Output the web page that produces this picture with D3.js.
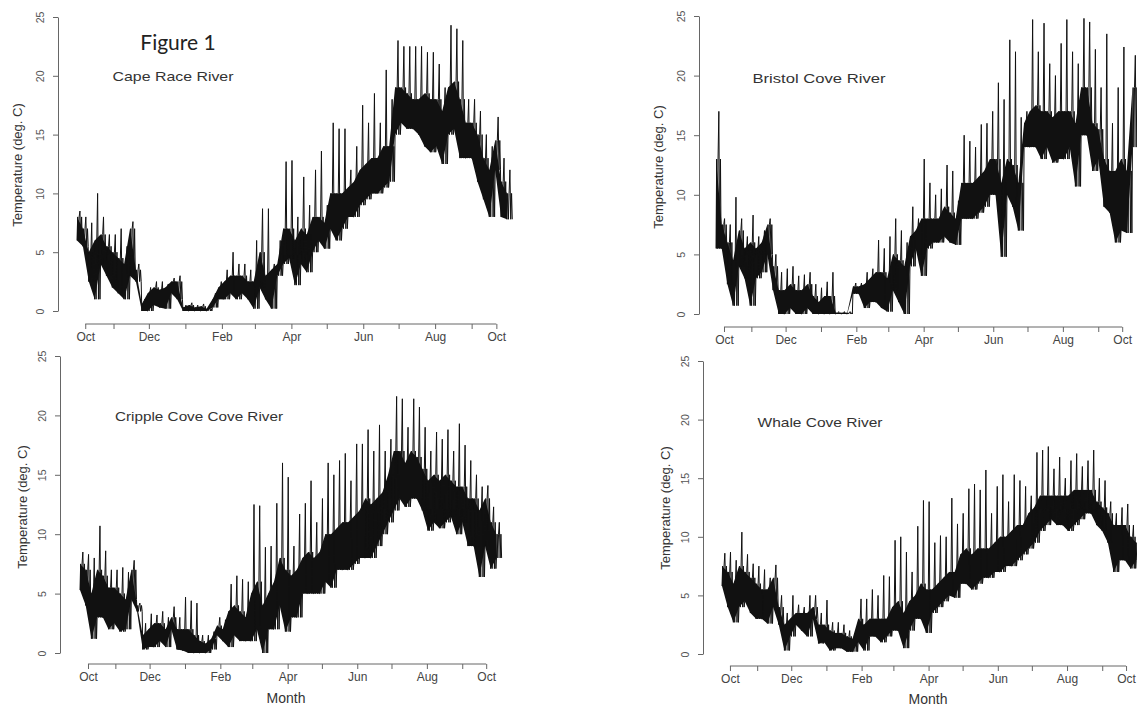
<!DOCTYPE html>
<html>
<head>
<meta charset="utf-8">
<script src="https://cdn.jsdelivr.net/npm/d3@7"></script>
<style>
body { margin: 0; background: #fff; }
svg { display: block; }
text { font-family: "Liberation Sans", Arial, sans-serif; }
</style>
</head>
<body>
<svg width="1137" height="708"></svg>
<script>
// record starts 1 Oct 2012, one reading block every 5 days
var startDate = "2012-10-01";
var stepDays = 5;
var tickDates = ["2012-10-08", "2012-11-01", "2012-12-01", "2013-01-01", "2013-02-01", "2013-03-01",
	"2013-04-01", "2013-05-01", "2013-06-01", "2013-07-01", "2013-08-01", "2013-09-01", "2013-09-22"];
var tickLabels = ["Oct", "", "Dec", "", "Feb", "", "Apr", "", "Jun", "", "Aug", "", "Oct"];
var yTicks = [0, 5, 10, 15, 20, 25];
var siteNames = ["Cape Race River", "Bristol Cove River", "Cripple Cove Cove River", "Whale Cove River"];

// lo = bottom of the trace, hi = top of the dense band, pk = spike top (deg. C)
var capeLo = [6,5.5,2.5,1,4,3,2,1.5,1,3,2.5,0,0,0.5,0.3,0.2,1.5,1,0,0,0,0,0,0.3,1,1,1.5,1,1.5,1,0.2,2,1,0.2,3,4,4.5,2.2,4,3.3,5,6,5.3,7,6,7,8,8,9,9.5,10,10,10.5,11,15,16,15.5,15.5,15,14,13.5,14,12.5,15,15.5,13,13,13,11,9.5,8,12,8,7.8];
var capeHi = [8,7,5,6,6.5,5.5,5,4.5,4,7,3.5,0.6,1.5,2,1.8,2,2.5,2.5,0.3,0.5,0.3,0.4,0.2,1,2,2.5,3,3,3,2.5,2.5,5,3,3.5,4,7,7,6,7,6.5,8,8,7.5,10,10,10,10.5,11,12,12.5,13,13,14,14,19,19,18.5,18,18,18.5,18,18,17,19,19.5,18,16,16,15,13,12,14.5,11,10];
var capePk = [8.5,8,7.5,10,8,6.5,6.5,7,5.5,7.6,4,1,2,2.5,2.5,2.3,2.8,3,0.5,0.7,0.5,0.6,0.4,1.5,2.5,3.5,5,4,4,3.5,6,8.7,8.7,4,6,12.7,12.8,8,11.4,9,12,13.6,9,16,15.5,15.5,12,14,17.5,16,18.5,16,20.5,18,23,22.5,22.5,22.5,22.5,22,22,21,19,24.3,24,23,18,18,17,15,14,16.5,13,12];

var bristolLo = [5.5,5.5,2.5,0.7,4,3,0.7,3,3.5,5,2,0,0,0.5,0,0,0.5,0,0,0,0,0,0,0,1.7,1.7,0.5,1,1,0.5,0.2,2,1,0,4,5.5,3.2,5.5,6,6,6.5,6,5.8,8,8,8,8.5,9,10,10,4.8,10,9,7,14,14,14,13,14,12.7,13,13,14,10.7,15,15,12,13,9,8.5,6,7,6.8,14];
var bristolHi = [13,7.5,6,4.5,7,5.5,6,5.5,6,7.5,4,2,2,2.5,2,2,2.5,1.5,1,1.5,1.5,0.1,0.1,0.1,2.3,2.3,2.5,3,3.5,3.5,3,5,4.5,4,6.5,7,8,8,8,8,9,8.5,8,11,11,11,11.5,12,13,13,11,13,12.5,11,16,17,17.5,17,17,16.5,17,17,17,16,19,19,16,15.5,13,12,12,13,12,19];
var bristolPk = [17,8,7.5,9.8,8,6.5,8.3,6.5,7,8,5,3.5,3.8,4,3.2,3.3,3.5,2.5,2.2,2.7,3.5,0.2,0.2,0.2,2.6,2.6,3.5,3.8,6.2,5.5,6.5,8,7,6,9,8,13,11,10,10.5,12.5,12,9.5,15,14.5,14,15.9,16,17,19.4,18,23,22,16.5,17,24.7,22,24.4,21,20,22.7,24.7,22,21,24.8,24.5,22.2,19,23.5,16,19,22.4,14,21.7];

var crippleLo = [5.3,4,1.2,3,3,2,2.5,1.8,2,4.5,3.5,0.3,0.5,0.5,1,0.5,2,0.3,0.2,0,0,0,0,0.3,1.5,1,0.5,1.5,1,1,1,2,0,2,2,4,1.8,3,3,5,5,5,5,6,5.5,7,7,7,7.5,8,8,8,9,10,11,12,13,12.3,13,13,12,10.3,11,10.5,11,11.5,10,11,9,9,6.4,9,7.1,8];
var crippleHi = [7.5,7,5,7,6.5,5.5,5.5,5,4.5,7,4,1.5,2,2.5,2.5,2,3,2,2,2,1.5,1,0.8,1.2,2.3,2,3.5,4,3.5,3,5,6,4,5,6,8,7,6.5,7,8,8.5,8,8.5,10,10,10.5,11,11,11.5,12,13,12.5,13,13.5,15,17,17,16,17,16.5,15.5,14.5,15,14.5,15,14.5,14,14,13,13,12,13,11,10];
var cripplePk = [8.5,8.3,8,10.7,8.6,7,7,7.2,6.8,7.8,4.2,2.5,3.3,3.2,3.5,3,3.9,3,4.7,4.4,4.2,1.5,1.5,1.8,3,2.8,5.8,6.5,6.2,6,12.5,12.4,8.9,9,12.6,16,14.8,9,11.7,12.6,14.5,11,13,16,15,16.2,16.8,14.5,17.6,17.6,18.8,17,19.2,17,18,21.6,21.4,19,21.4,20.7,19,17,18.6,18,18.8,17,19.3,17.5,16.2,15,14,14.1,12.3,11];

var whaleLo = [5.8,4,2.7,4,4.5,3.5,3,3,2.6,4,2.5,0.3,1.5,2.5,2,1.5,3,0.9,1,0.3,0.5,0.5,0.2,0.2,1,0.3,1.5,1.5,1,1.5,2,2,0.5,2,3,3,1.8,3.5,4,4.5,5,4.8,6,6,5.5,6,6.5,6.5,7,7,7.5,7.5,8,8.5,9,9.5,10.5,11,11.5,11,11,10.5,11,11.5,12,12,11,10.5,9.5,7,8,8,7.3,8];
var whaleHi = [7.5,7,6,7.5,7,6.5,6,5.5,5.5,6.5,4,2.5,3,3.5,3.5,3.5,4,2.5,2.5,2,1.8,1.8,1.5,1.3,3,2.5,3,3,3,3,4,4.5,3.5,4.5,5,6,5.5,5.5,6,6.5,7,7,8.5,9,8.5,9,9,9,9.5,10,10,10.5,11,11,12,12.5,13.5,13.5,13.5,13.5,13.5,13.5,14,14,14,14,13,12.5,12,11,11,11,10,9.5];
var whalePk = [8.6,8.7,8,10.4,8.5,7.7,7.5,7.2,6.5,7.6,5,3.5,5,4.2,4,5,5,3.5,4.6,2.7,2.7,2.5,2,1.8,4.7,4.7,5.5,5,6.7,6.6,9.7,10,8.7,7,10.9,13.1,13,9.5,10.1,10,13.3,11.1,12,14.1,14.5,14,15.7,12,14.3,15.3,13,15.3,14.8,14.3,13.5,17.2,17.4,17.7,15.8,16.8,15,16.5,17.1,16,16.5,17.4,15,14.8,13,12,12.5,12.8,11,10.5];

var svg = d3.select("svg");
var parse = d3.timeParse("%Y-%m-%d");
var t0 = parse(startDate);

// where each panel sits on the page
var panels = [
	{name: siteNames[0], lo: capeLo, hi: capeHi, pk: capePk, x0: 77, pxDay: 1.178, yBase: 311, yTop: 17, axisX: 58, axisY: 324, titleX: 173, titleY: 81, titleW: 121, labX: 17, labY: 165},
	{name: siteNames[1], lo: bristolLo, hi: bristolHi, pk: bristolPk, x0: 716, pxDay: 1.141, yBase: 314, yTop: 16, axisX: 699, axisY: 327, titleX: 819, titleY: 83, titleW: 133, labX: 658, labY: 167},
	{name: siteNames[2], lo: crippleLo, hi: crippleHi, pk: cripplePk, x0: 80, pxDay: 1.141, yBase: 653, yTop: 356, axisX: 60, axisY: 664, titleX: 199, titleY: 421, titleW: 168, labX: 22, labY: 507, monthX: 286, monthY: 703},
	{name: siteNames[3], lo: whaleLo, hi: whaleHi, pk: whalePk, x0: 722, pxDay: 1.135, yBase: 654, yTop: 361, axisX: 703, axisY: 666, titleX: 820, titleY: 427, titleW: 125, labX: 665, labY: 508, monthX: 928, monthY: 704}
];

// order in which a block's readings are traced (hours into the block)
var traceHours = [0, 14, 29, 43, 60, 77, 94, 108];
var traceKeys = ["lo", "hi", "lo", "hi", "pk", "lo", "hi", "lo"];

function blockDate(i, extraHours) {
	return d3.timeHour.offset(t0, i * stepDays * 24 + (extraHours || 0));
}

panels.forEach(function(p) {
	var g = svg.append("g");
	var x = d3.scaleTime()
		.domain([t0, d3.timeDay.offset(t0, 365)])
		.range([p.x0, p.x0 + 365 * p.pxDay]);
	var y = d3.scaleLinear().domain([0, 25]).range([p.yBase, p.yTop]);

	// dense band between lows and band top
	var band = d3.area()
		.x(function(d, i) { return x(blockDate(i)); })
		.y0(function(d, i) { return y(p.lo[i]); })
		.y1(function(d, i) { return y(p.hi[i]); });
	g.append("path")
		.datum(p.lo)
		.attr("d", band)
		.attr("fill", "#111");

	// trace: quick swings through each block's readings
	var pts = [];
	p.lo.forEach(function(v, i) {
		traceHours.forEach(function(h, k) {
			pts.push([blockDate(i, h), p[traceKeys[k]][i]]);
		});
	});
	var line = d3.line()
		.x(function(d) { return x(d[0]); })
		.y(function(d) { return y(d[1]); });
	g.append("path")
		.datum(pts)
		.attr("d", line)
		.attr("fill", "none")
		.attr("stroke", "#111")
		.attr("stroke-width", 1);

	// y axis
	var yAxis = g.append("g")
		.attr("transform", "translate(" + p.axisX + ",0)")
		.call(d3.axisLeft(y).tickValues(yTicks).tickSize(5).tickSizeOuter(0));
	yAxis.select(".domain").attr("stroke", "#666");
	yAxis.selectAll(".tick line").attr("stroke", "#666");
	yAxis.selectAll(".tick text")
		.attr("x", null)
		.attr("dy", "0.35em")
		.attr("text-anchor", "middle")
		.attr("transform", "translate(-18,0) rotate(-90)")
		.attr("fill", "#555")
		.style("font-size", "10.5px");

	// x axis, line only between first and last tick as in R
	var tks = tickDates.map(parse);
	var xAxis = g.append("g")
		.attr("transform", "translate(0," + p.axisY + ")")
		.call(d3.axisBottom(x).tickValues(tks).tickSize(5)
			.tickFormat(function(d, i) { return tickLabels[i]; }));
	xAxis.select(".domain").remove();
	xAxis.append("line")
		.attr("x1", x(tks[0]))
		.attr("x2", x(tks[tks.length - 1]))
		.attr("stroke", "#666");
	xAxis.selectAll(".tick line").attr("stroke", "#666");
	xAxis.selectAll(".tick text")
		.attr("fill", "#444")
		.style("font-size", "12px");

	g.append("text")
		.attr("x", p.titleX)
		.attr("y", p.titleY)
		.attr("text-anchor", "middle")
		.attr("textLength", p.titleW)
		.attr("lengthAdjust", "spacingAndGlyphs")
		.attr("fill", "#333")
		.style("font-size", "13.5px")
		.text(p.name);

	g.append("text")
		.attr("transform", "translate(" + p.labX + "," + p.labY + ") rotate(-90)")
		.attr("dy", "0.35em")
		.attr("text-anchor", "middle")
		.attr("fill", "#333")
		.style("font-size", "13px")
		.text("Temperature (deg. C)");

	if (p.monthX) {
		g.append("text")
			.attr("x", p.monthX)
			.attr("y", p.monthY)
			.attr("text-anchor", "middle")
			.attr("fill", "#333")
			.style("font-size", "14px")
			.text("Month");
	}
});

svg.append("text")
	.attr("x", 178)
	.attr("y", 50)
	.attr("text-anchor", "middle")
	.attr("fill", "#222")
	.style("font-family", "Lato, 'Open Sans', sans-serif")
	.style("font-size", "21px")
	.text("Figure 1");
</script>
</body>
</html>
